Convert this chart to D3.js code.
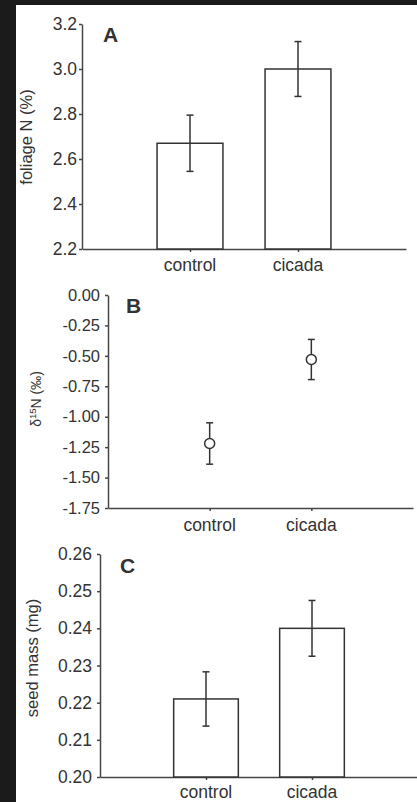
<!DOCTYPE html>
<html>
<head>
<meta charset="utf-8">
<script src="https://cdn.jsdelivr.net/npm/d3@7"></script>
<style>
  html, body { margin: 0; padding: 0; background: #1b1b1b; }
  svg { display: block; }
  text { font-family: "Liberation Sans", Arial, sans-serif; fill: #333; }
</style>
</head>
<body>
<svg id="chart" width="417" height="802"></svg>
<script>
// Treatments shared by the three panels
const categories = ["control", "cicada"];

// Panel A: foliage nitrogen (%), mean and standard error
const foliageN = [2.67, 3.00];
const foliageNErr = [0.125, 0.122];
const foliageTicks = [2.2, 2.4, 2.6, 2.8, 3.0, 3.2];
const foliageTickLabels = ["2.2", "2.4", "2.6", "2.8", "3.0", "3.2"];

// Panel B: delta 15N (per mil), mean and standard error
const d15N = [-1.22, -0.53];
const d15NErr = [0.17, 0.165];
const d15NTicks = [0, -0.25, -0.5, -0.75, -1.0, -1.25, -1.5, -1.75];
const d15NTickLabels = ["0.00", "-0.25", "-0.50", "-0.75", "-1.00", "-1.25", "-1.50", "-1.75"];

// Panel C: seed mass (mg), mean and standard error
const seedMass = [0.221, 0.240];
const seedMassErr = [0.0073, 0.0075];
const seedTicks = [0.20, 0.21, 0.22, 0.23, 0.24, 0.25, 0.26];
const seedTickLabels = ["0.20", "0.21", "0.22", "0.23", "0.24", "0.25", "0.26"];

const svg = d3.select("#chart");
const INK = "#333";
const AXIS = "#464646";

// light page area on a dark surround
svg.append("rect").attr("width", 417).attr("height", 802).attr("fill", "#1b1b1b");
svg.append("rect").attr("x", 16).attr("y", 5).attr("width", 401).attr("height", 797).attr("fill", "#fff");

function panel(opt) {
  const g = svg.append("g");
  const x = d3.scalePoint().domain(categories).range([opt.x0, opt.x1]).padding(1);
  const y = d3.scaleLinear().domain(opt.domain).range([opt.yBottom, opt.yTop]);

  // y axis
  const yAxis = d3.axisLeft(y)
    .tickValues(opt.ticks)
    .tickFormat((d, i) => opt.tickLabels[i])
    .tickSize(3).tickSizeOuter(0).tickPadding(opt.tickPad);
  const ya = g.append("g").attr("transform", `translate(${opt.x0},0)`).call(yAxis);
  ya.select(".domain").attr("stroke", AXIS).attr("stroke-width", 1.5);
  ya.selectAll(".tick line").attr("stroke", AXIS).attr("stroke-width", 1.5);
  ya.selectAll(".tick text")
    .attr("fill", INK)
    .style("font-size", opt.tickFont + "px")
    .style("font-family", '"Liberation Sans", Arial, sans-serif');

  // x axis
  const xAxis = d3.axisBottom(x).tickSize(3).tickSizeOuter(0).tickFormat("");
  const xa = g.append("g").attr("transform", `translate(0,${opt.yBottom})`).call(xAxis);
  xa.select(".domain").attr("stroke", AXIS).attr("stroke-width", 1.5);
  xa.selectAll(".tick line").attr("stroke", AXIS).attr("stroke-width", 1.5);

  // category labels
  g.selectAll("text.cat").data(categories).join("text")
    .attr("class", "cat")
    .attr("x", d => x(d))
    .attr("y", opt.yBottom + opt.catOffset)
    .attr("text-anchor", "middle")
    .style("font-size", opt.catFont + "px")
    .text(d => d);

  const step = x.step();
  if (opt.kind === "bar") {
    const bw = step * 0.61;
    g.selectAll("rect.bar").data(opt.values).join("rect")
      .attr("class", "bar")
      .attr("x", (d, i) => x(categories[i]) - bw / 2)
      .attr("y", d => y(d))
      .attr("width", bw)
      .attr("height", d => y(opt.domain[0]) - y(d))
      .attr("fill", "#fff")
      .attr("stroke", INK)
      .attr("stroke-width", 1.5);
  }

  // error bars
  const eb = g.selectAll("g.err").data(opt.values).join("g").attr("class", "err");
  eb.append("line")
    .attr("x1", (d, i) => x(categories[i])).attr("x2", (d, i) => x(categories[i]))
    .attr("y1", (d, i) => y(d + opt.errors[i])).attr("y2", (d, i) => y(d - opt.errors[i]))
    .attr("stroke", INK).attr("stroke-width", 1.5);
  [1, -1].forEach(s => {
    eb.append("line")
      .attr("x1", (d, i) => x(categories[i]) - 3.5).attr("x2", (d, i) => x(categories[i]) + 3.5)
      .attr("y1", (d, i) => y(d + s * opt.errors[i])).attr("y2", (d, i) => y(d + s * opt.errors[i]))
      .attr("stroke", INK).attr("stroke-width", 1.5);
  });

  if (opt.kind === "point") {
    g.selectAll("circle.pt").data(opt.values).join("circle")
      .attr("class", "pt")
      .attr("cx", (d, i) => x(categories[i]))
      .attr("cy", d => y(d))
      .attr("r", 5)
      .attr("fill", "#fff")
      .attr("stroke", INK)
      .attr("stroke-width", 1.5);
  }

  // panel letter
  g.append("text")
    .attr("x", opt.letterX).attr("y", opt.letterY)
    .style("font-size", "21px").style("font-weight", "bold")
    .attr("fill", "#111")
    .text(opt.letter);

  // y axis title
  const t = g.append("text")
    .attr("transform", `translate(${opt.titleX},${opt.titleY}) rotate(-90)`)
    .attr("text-anchor", "middle")
    .style("font-size", opt.titleFont + "px");
  opt.title(t);
  return g;
}

panel({
  kind: "bar", letter: "A", letterX: 103, letterY: 42,
  x0: 82, x1: 406, yTop: 24, yBottom: 249, domain: [2.2, 3.2],
  ticks: foliageTicks, tickLabels: foliageTickLabels,
  values: foliageN, errors: foliageNErr,
  tickFont: 17.5, tickPad: 2, catFont: 17.5, catOffset: 22, titleFont: 16.5,
  titleX: 32, titleY: 137,
  title: t => t.text("foliage N (%)")
});

panel({
  kind: "point", letter: "B", letterX: 126, letterY: 313,
  x0: 108, x1: 413, yTop: 295, yBottom: 508, domain: [-1.75, 0],
  ticks: d15NTicks, tickLabels: d15NTickLabels,
  values: d15N, errors: d15NErr,
  tickFont: 16.5, tickPad: 5, catFont: 17.5, catOffset: 23, titleFont: 14,
  titleX: 41, titleY: 399,
  title: t => {
    t.append("tspan").text("δ");
    t.append("tspan").attr("baseline-shift", "super").style("font-size", "9.5px").text("15");
    t.append("tspan").text("N (‰)");
  }
});

panel({
  kind: "bar", letter: "C", letterX: 120, letterY: 573,
  x0: 100, x1: 418, yTop: 554, yBottom: 777, domain: [0.20, 0.26],
  ticks: seedTicks, tickLabels: seedTickLabels,
  values: seedMass, errors: seedMassErr,
  tickFont: 17.5, tickPad: 5, catFont: 17.5, catOffset: 21, titleFont: 16.5,
  titleX: 38, titleY: 658,
  title: t => t.text("seed mass (mg)")
});
</script>
</body>
</html>
